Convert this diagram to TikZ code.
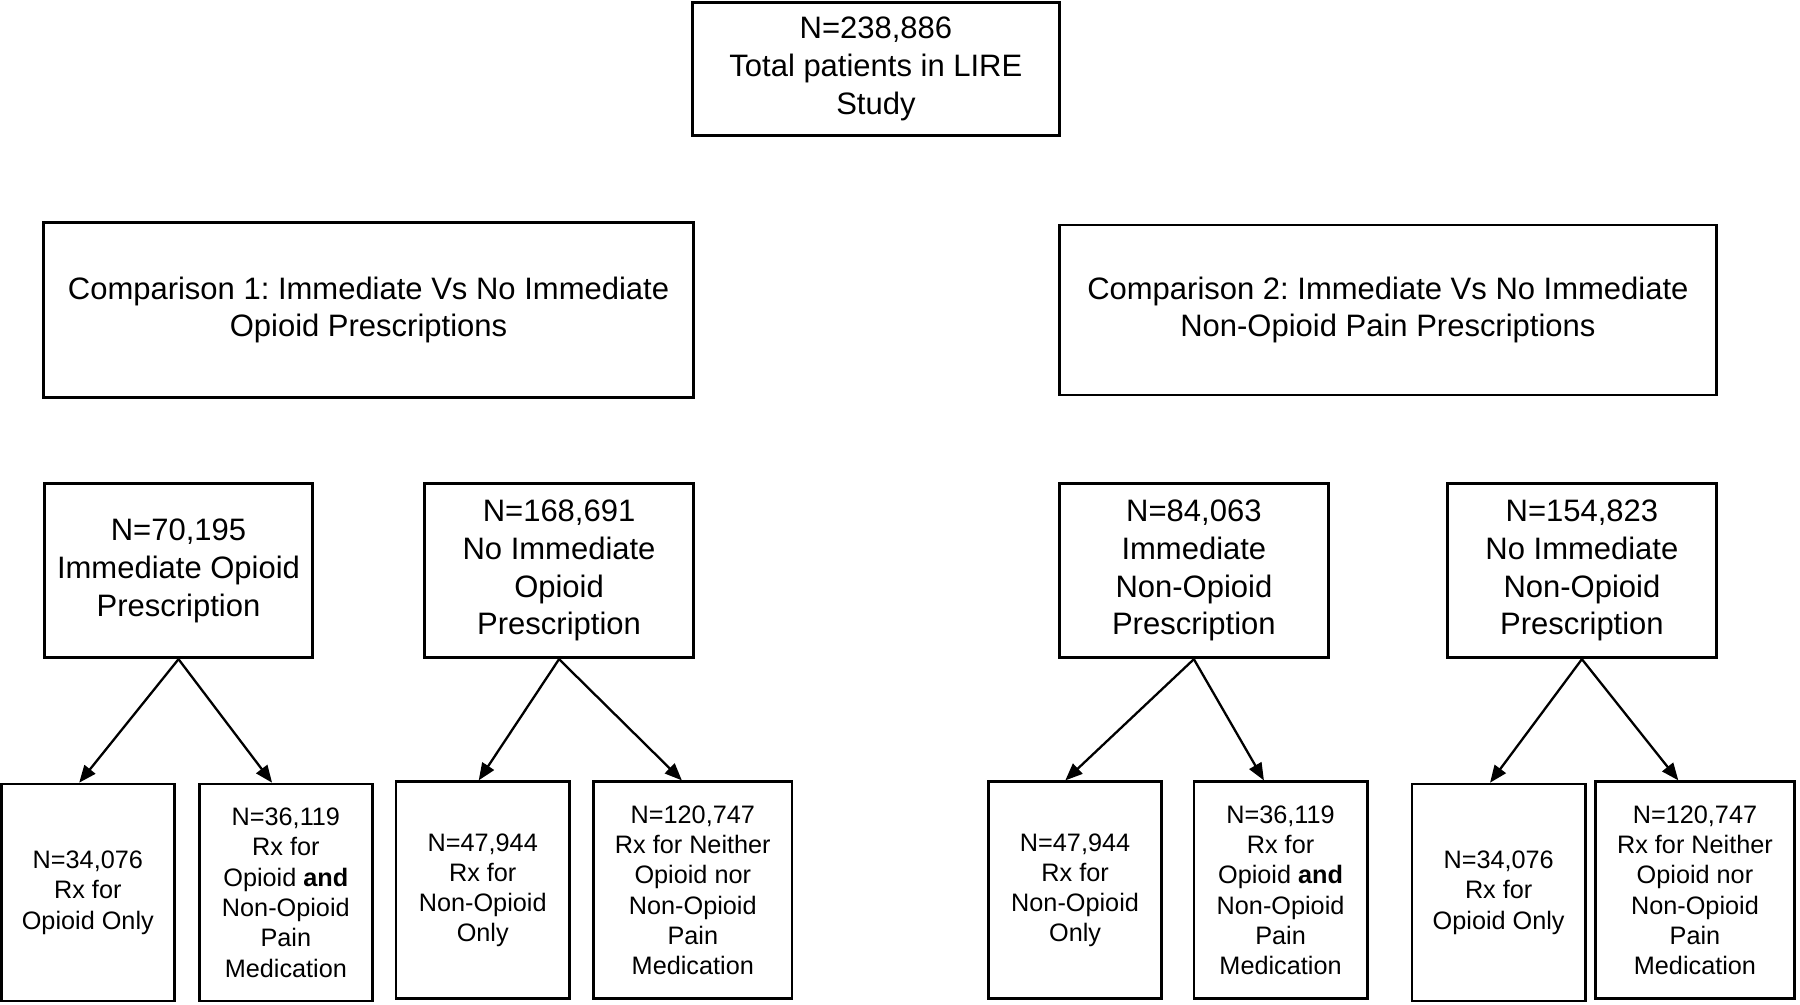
\documentclass[tikz,border=0pt]{standalone}
\usepackage{fontspec}
\setmainfont{Liberation Sans}
\usetikzlibrary{arrows.meta}
\frenchspacing
\begin{document}
\begin{tikzpicture}[x=0.5pt,y=-0.5pt,
  box/.style={draw=black, line width=1.2pt, rectangle, align=center, inner sep=0pt},
  big/.style={font=\fontsize{13.5}{16.5}\selectfont},
  small/.style={font=\fontsize{11}{13.2}\selectfont},
  midbox/.style={box, big, minimum width=117pt, minimum height=76pt},
  botbox/.style={box, small, minimum width=75.5pt, minimum height=94.5pt},
  arr/.style={line width=1pt, -{Triangle[length=7.5pt,width=6pt]}}]
\useasboundingbox (0,0) rectangle (1568,875);
\fill[white] (0,0) rectangle (1568,875);

\node[box, big, minimum width=160pt, minimum height=58pt] (top) at (763,60)
  {N=238,886\\Total patients in LIRE\\Study};
\node[box, big, minimum width=283pt, minimum height=76pt] (c1) at (321,270)
  {Comparison 1: Immediate Vs No Immediate\\Opioid Prescriptions};
\node[box, big, minimum width=286pt, minimum height=74pt] (c2) at (1209,270)
  {Comparison 2: Immediate Vs No Immediate\\Non-Opioid Pain Prescriptions};

\node[midbox, minimum width=116.5pt] (m1) at (155.5,497)
  {N=70,195\\Immediate Opioid\\Prescription};
\node[midbox] (m2) at (487,497)
  {N=168,691\\No Immediate\\Opioid\\Prescription};
\node[midbox] (m3) at (1040,497)
  {N=84,063\\Immediate\\Non-Opioid\\Prescription};
\node[midbox] (m4) at (1378,497)
  {N=154,823\\No Immediate\\Non-Opioid\\Prescription};

\node[botbox] (b1) at (76.5,777.5) {N=34,076\\Rx for\\Opioid Only};
\node[botbox] (b2) at (249,777.5) {N=36,119\\Rx for\\Opioid \textbf{and}\\Non-Opioid\\Pain\\Medication};
\node[botbox] (b3) at (420.5,775.5) {N=47,944\\Rx for\\Non-Opioid\\Only};
\node[botbox, minimum width=86.5pt] (b4) at (603.5,775.5) {N=120,747\\Rx for Neither\\Opioid nor\\Non-Opioid\\Pain\\Medication};
\node[botbox] (b5) at (936.5,775.5) {N=47,944\\Rx for\\Non-Opioid\\Only};
\node[botbox] (b6) at (1115.5,775.5) {N=36,119\\Rx for\\Opioid \textbf{and}\\Non-Opioid\\Pain\\Medication};
\node[botbox] (b7) at (1305.5,777.5) {N=34,076\\Rx for\\Opioid Only};
\node[botbox, minimum width=86.5pt] (b8) at (1476.5,775.5) {N=120,747\\Rx for Neither\\Opioid nor\\Non-Opioid\\Pain\\Medication};

\draw[arr] (m1.south) -- ([xshift=-3.75pt]b1.north);
\draw[arr] (m1.south) -- ([xshift=-6pt]b2.north);
\draw[arr] (m2.south) -- ([xshift=-1.75pt]b3.north);
\draw[arr] (m2.south) -- ([xshift=-4.75pt]b4.north);
\draw[arr] (m3.south) -- ([xshift=-4.25pt]b5.north);
\draw[arr] (m3.south) -- ([xshift=-7.25pt]b6.north);
\draw[arr] (m4.south) -- ([xshift=-3.75pt]b7.north);
\draw[arr] (m4.south) -- ([xshift=-7.25pt]b8.north);
\end{tikzpicture}
\end{document}
